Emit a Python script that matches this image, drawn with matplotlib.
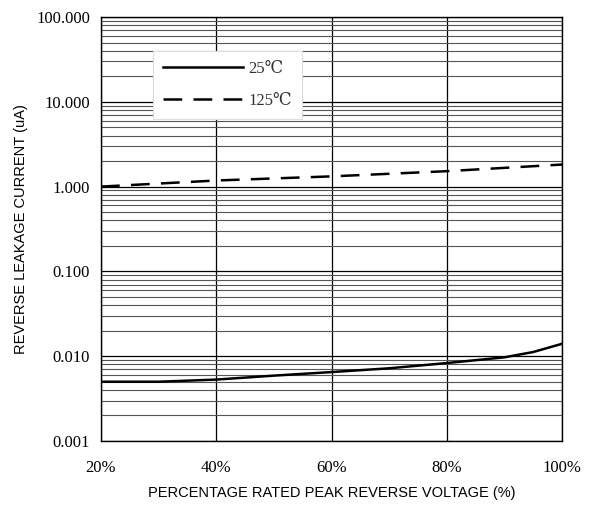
import numpy as np
import matplotlib.pyplot as plt
from matplotlib.ticker import FixedLocator, NullFormatter

# percentage of rated peak reverse voltage
x_25 = [20, 30, 40, 50, 60, 70, 80, 90, 95, 100]
y_25 = [0.0050, 0.0050, 0.0053, 0.0059, 0.0065, 0.0072, 0.0083, 0.0097, 0.0112, 0.0140]
x_125 = [20, 40, 60, 80, 100]
y_125 = [1.00, 1.18, 1.32, 1.52, 1.82]

xticks = [20, 40, 60, 80, 100]
xlabels = ['20%', '40%', '60%', '80%', '100%']
yticks = [0.001, 0.01, 0.1, 1, 10, 100]
ylabels = ['0.001', '0.010', '0.100', '1.000', '10.000', '100.000']

fig = plt.figure(figsize=(5.95, 5.07), dpi=100)
ax = fig.add_axes([101/595, 66/507, 461/595, 424/507])

ax.set_yscale('log')
ax.set_xlim(20, 100)
ax.set_ylim(0.001, 100)

minors = [m * 10.0**e for e in range(-3, 2) for m in range(2, 10)]
ax.yaxis.set_minor_locator(FixedLocator(minors))
ax.yaxis.set_minor_formatter(NullFormatter())
ax.set_yticks(yticks)
ax.set_yticklabels(ylabels)
ax.set_xticks(xticks)
ax.set_xticklabels(xlabels)

ax.grid(True, which='major', color='black', lw=0.9)
ax.grid(True, which='minor', axis='y', color='#555555', lw=0.8)
ax.tick_params(which='both', length=0, pad=8)
for lab in ax.get_xticklabels() + ax.get_yticklabels():
    lab.set_family('Liberation Serif')
    lab.set_fontsize(12)
ax.tick_params(axis='x', pad=14)
for s in ax.spines.values():
    s.set_color('black')
    s.set_linewidth(1.0)

ax.plot(x_25, y_25, color='black', lw=1.8, label='25\u2103')
ax.plot(x_125, y_125, color='black', lw=1.8, ls=(0, (7.5, 4.5)), label='125\u2103')

leg = ax.legend(loc='upper left', bbox_to_anchor=(0.113, 0.92), handlelength=4.8,
                prop={'family': ['Liberation Serif', 'DejaVu Serif'], 'size': 12},
                frameon=True, fancybox=False, borderpad=0.6, labelspacing=0.95,
                handletextpad=0.3, borderaxespad=0)
leg.get_frame().set_edgecolor('#dddddd')
leg.get_frame().set_facecolor('white')
leg.get_frame().set_alpha(1)
leg.get_frame().set_linewidth(0.8)
for t in leg.get_texts():
    t.set_color('#333333')

ax.set_xlabel('PERCENTAGE RATED PEAK REVERSE VOLTAGE (%)', family='Liberation Sans',
              fontsize=10.5, labelpad=7)
ax.set_ylabel('REVERSE LEAKAGE CURRENT (uA)', family='Liberation Sans',
              fontsize=10.5, labelpad=6)

fig.savefig('out.png', dpi=100)
